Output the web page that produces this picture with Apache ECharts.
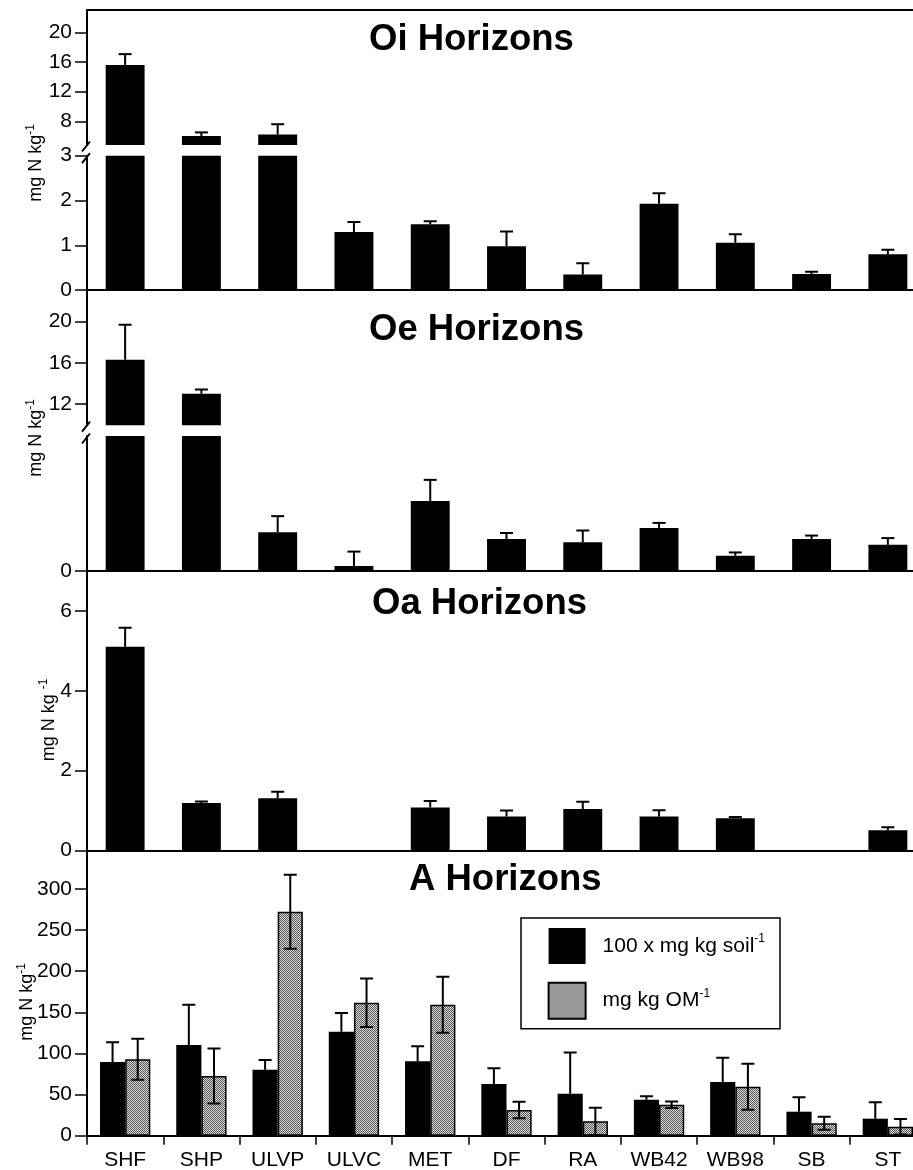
<!DOCTYPE html>
<html><head><meta charset="utf-8">
<script src="https://cdn.jsdelivr.net/npm/echarts@6/dist/echarts.min.js"></script>
<style>html,body{margin:0;padding:0;background:#fff}#c{width:913px;height:1170px}</style>
</head><body><div id="c"></div><script>
// ---------------- data ----------------
const categories = ['SHF','SHP','ULVP','ULVC','MET','DF','RA','WB42','WB98','SB','ST'];
const oiMean = [15.6, 6.0, 6.2, 1.30, 1.47, 0.98, 0.35, 1.93, 1.06, 0.36, 0.80];
const oiErr  = [1.45, 0.5, 1.4, 0.22, 0.07, 0.33, 0.25, 0.23, 0.19, 0.05, 0.10];
const oeMean = [16.3, 13.0, 0.46, 0.06, 0.83, 0.38, 0.34, 0.51, 0.18, 0.38, 0.31];
const oeErr  = [3.4, 0.4, 0.19, 0.17, 0.25, 0.07, 0.14, 0.06, 0.04, 0.04, 0.08];
const oaMean = [5.1, 1.19, 1.31, null, 1.08, 0.85, 1.04, 0.85, 0.81, null, 0.51];
const oaErr  = [0.48, 0.04, 0.16, null, 0.16, 0.15, 0.18, 0.16, 0.03, null, 0.07];
const aSoilMean = [89.6, 110.3, 80.3, 126.5, 90.5, 62.9, 51.1, 43.8, 65.3, 29.2, 20.7];
const aSoilErr  = [24, 49, 11.8, 22.7, 18.2, 19, 50, 4.1, 29.6, 17.5, 20];
const aOmMean = [92.9, 72.6, 272.4, 161.7, 159.3, 31.3, 17.5, 37.7, 59.6, 15.1, 10.9];
const aOmErr  = [25, 33.5, 45, 29.5, 34, 10, 16.5, 4, 28, 8, 9.5];

const oiUpperTicks = [8, 12, 16, 20], oiUpperMinor = [6, 10, 14, 18, 22];
const oiLowerTicks = [0, 1, 2, 3],    oiLowerMinor = [0.5, 1.5, 2.5];
const oeUpperTicks = [12, 16, 20],    oeUpperMinor = [14, 18, 22];
const oeLowerTicks = [0],             oeLowerMinor = [1];
const oaTicks = [0, 2, 4, 6],         oaMinor = [1, 3, 5];
const aTicks = [0, 50, 100, 150, 200, 250, 300], aMinor = [25, 75, 125, 175, 225, 275, 325];

const titles = ['Oi Horizons', 'Oe Horizons', 'Oa Horizons', 'A Horizons'];
const legendNames = ['100 x mg kg soil', 'mg kg OM'];

// ---------------- layout ----------------
const FONT = '"Liberation Sans", Arial, Helvetica, sans-serif';
const L = 87, W = 839;
const grids = [
  {top: 10,    height: 135,   min: 4.8,  max: 23,    ticks: oiUpperTicks, minor: oiUpperMinor},
  {top: 155.7, height: 134.5, min: 0,    max: 3,     ticks: oiLowerTicks, minor: oiLowerMinor},
  {top: 290.2, height: 135,   min: 9.94, max: 23.06, ticks: oeUpperTicks, minor: oeUpperMinor},
  {top: 436,   height: 135,   min: 0,    max: 1.6,   ticks: oeLowerTicks, minor: oeLowerMinor},
  {top: 571,   height: 279.5, min: 0,    max: 7,     ticks: oaTicks,      minor: oaMinor},
  {top: 850.5, height: 285.2, min: 0,    max: 346.8, ticks: aTicks,       minor: aMinor}
];

// grey stipple pattern
const pc = document.createElement('canvas'); pc.width = 2; pc.height = 2;
const px = pc.getContext('2d');
px.fillStyle = '#dcdcdc'; px.fillRect(0, 0, 2, 2);
px.fillStyle = '#555555'; px.fillRect(0, 0, 1, 1); px.fillRect(1, 1, 1, 1);
const grey = {image: pc, repeat: 'repeat'};

const lineBlack = {color: '#000', width: 2};

const gridOpt = grids.map(g => ({left: L, width: W, top: g.top, height: g.height, outerBoundsMode: 'none', containLabel: false}));

const xAxes = grids.map((g, i) => {
  const base = {type: 'category', gridIndex: i, data: categories, boundaryGap: true,
    axisLine: {show: true, lineStyle: lineBlack}, axisTick: {show: false}, axisLabel: {show: false}, splitLine: {show: false}};
  if (i === 0) base.position = 'top';
  if (i === 2) base.axisLine = {show: false};
  if (i === 5) {
    base.axisTick = {show: true, interval: 0, length: 9, lineStyle: {color: '#000', width: 1.5}};
    base.axisLabel = {show: true, interval: 0, fontSize: 21, color: '#000', fontFamily: FONT, margin: 14};
  }
  return base;
});

const yAxes = [];
grids.forEach((g, i) => {
  yAxes.push({type: 'value', gridIndex: i, min: g.min, max: g.max,
    axisLine: {show: true, lineStyle: lineBlack},
    axisTick: {show: true, customValues: g.ticks, length: 12, lineStyle: {color: '#000', width: 1.5}},
    axisLabel: {show: true, customValues: g.ticks, fontSize: 21, color: '#000', fontFamily: FONT, margin: 15},
    splitLine: {show: false}});
  yAxes.push({type: 'value', gridIndex: i, min: g.min, max: g.max,
    axisLine: {show: false},
    axisTick: {show: true, customValues: g.minor, length: 5, lineStyle: {color: '#000', width: 1.5}},
    axisLabel: {show: false}, splitLine: {show: false}});
});

function errRender(offsetFrac, both) {
  return function (params, api) {
    const i = api.value(0), m = api.value(1), e = api.value(2);
    const band = api.size([1, 0])[0];
    const pTop = api.coord([i, m + e]);
    const pMid = api.coord([i, m]);
    const pBot = both ? api.coord([i, m - e]) : pMid;
    const x = pTop[0] + band * offsetFrac;
    const cap = 6.5;
    const st = {stroke: '#000', lineWidth: 2};
    const ch = [
      {type: 'line', shape: {x1: x, y1: pTop[1], x2: x, y2: pBot[1]}, style: st},
      {type: 'line', shape: {x1: x - cap, y1: pTop[1], x2: x + cap, y2: pTop[1]}, style: st}
    ];
    if (both) ch.push({type: 'line', shape: {x1: x - cap, y1: pBot[1], x2: x + cap, y2: pBot[1]}, style: st});
    return {type: 'group', children: ch};
  };
}
function errSeries(gi, mean, err, offsetFrac, both) {
  return {type: 'custom', xAxisIndex: gi, yAxisIndex: gi * 2, clip: true, z: 5, silent: true,
    data: mean.map((m, i) => m == null ? null : [i, m, err[i]]).filter(d => d),
    encode: {x: 0, y: 1}, renderItem: errRender(offsetFrac, both)};
}
function barSeries(gi, mean, extra) {
  return Object.assign({type: 'bar', xAxisIndex: gi, yAxisIndex: gi * 2, data: mean, clip: true,
    barCategoryGap: '49%', itemStyle: {color: '#000'}, silent: true}, extra || {});
}

const series = [
  barSeries(0, oiMean), errSeries(0, oiMean, oiErr, 0, false),
  barSeries(1, oiMean), errSeries(1, oiMean, oiErr, 0, false),
  barSeries(2, oeMean), errSeries(2, oeMean, oeErr, 0, false),
  barSeries(3, oeMean), errSeries(3, oeMean, oeErr, 0, false),
  barSeries(4, oaMean), errSeries(4, oaMean, oaErr, 0, false),
  barSeries(5, aSoilMean, {name: legendNames[0], barCategoryGap: '34%', barGap: '0%'}),
  barSeries(5, aOmMean, {name: legendNames[1], barCategoryGap: '34%', barGap: '0%',
    itemStyle: {color: grey, borderColor: '#000', borderWidth: 1.5}}),
  errSeries(5, aSoilMean, aSoilErr, -0.165, false),
  errSeries(5, aOmMean, aOmErr, 0.165, true)
];

const titleLeft = [369, 369, 372, 409];
const titleTop = [21, 311, 585.5, 861];
const title = titles.map((t, i) => ({text: t, left: titleLeft[i], top: titleTop[i], padding: 0,
  textStyle: {fontSize: 36.5, fontWeight: 'bold', color: '#000', fontFamily: FONT}}));

const richName = {
  a: {fontSize: 18, fill: '#000', fontFamily: FONT, lineHeight: 22},
  s: {fontSize: 12, fill: '#000', fontFamily: FONT, verticalAlign: 'top', lineHeight: 12}
};
const nameText = ['{a|mg N kg}{s|-1}', '{a|mg N kg}{s|-1}', '{a|mg N kg }{s|-1}', '{a|mg N kg}{s|-1}'];
const namePos = [[36, 163], [36, 438], [49, 720], [27, 1002]];
const graphic = nameText.map((t, i) => ({type: 'text', x: namePos[i][0], y: namePos[i][1], rotation: Math.PI / 2,
  style: {text: t, rich: richName, align: 'center', verticalAlign: 'middle', textAlign: 'center', textVerticalAlign: 'middle', fill: '#000', fontFamily: FONT}}));
// axis break marks
function slash(cx, cy) {
  return {type: 'line', shape: {x1: cx - 4, y1: cy + 5, x2: cx + 4, y2: cy - 5}, style: {stroke: '#000', lineWidth: 2}};
}
graphic.push(slash(86, grids[0].top + grids[0].height + 1.5), slash(86, grids[1].top + 2.5));
graphic.push(slash(86, grids[2].top + grids[2].height + 1.5), slash(86, grids[3].top + 2.5));

const chart = echarts.init(document.getElementById('c'), null, {renderer: 'canvas'});
chart.setOption({
  animation: false,
  backgroundColor: '#fff',
  textStyle: {fontFamily: FONT},
  title: title,
  grid: gridOpt,
  xAxis: xAxes,
  yAxis: yAxes,
  legend: {
    data: legendNames, left: 521, top: 918, orient: 'vertical', icon: 'rect',
    itemWidth: 37, itemHeight: 36, itemGap: 17.7,
    padding: [10, 15, 9, 26.6], borderColor: '#000', borderWidth: 1.5, backgroundColor: '#fff',
    textStyle: {fontSize: 21, color: '#000', fontFamily: FONT, padding: [0, 0, 0, 12],
      rich: {t: {fontSize: 21, fontFamily: FONT, lineHeight: 26}, s: {fontSize: 12, fontFamily: FONT, verticalAlign: 'top', lineHeight: 12}}},
    formatter: n => '{t|' + n + '}{s|-1}',
    selectedMode: false
  },
  graphic: graphic,
  series: series
});
</script></body></html>
